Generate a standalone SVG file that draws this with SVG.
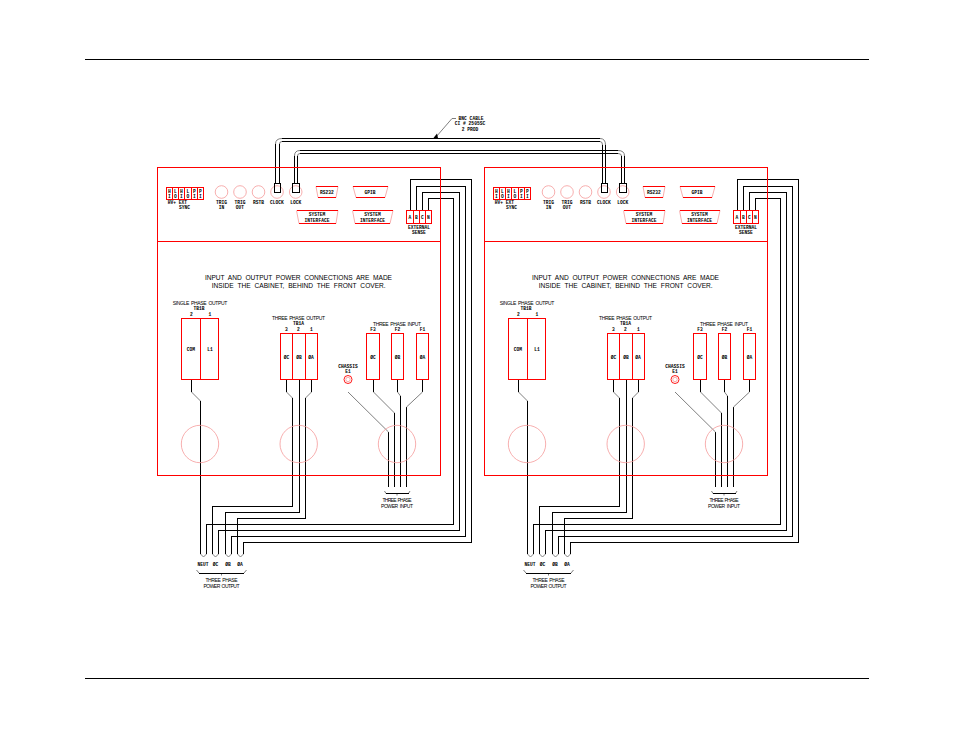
<svg xmlns="http://www.w3.org/2000/svg" width="954" height="738" viewBox="0 0 954 738">
<style>
.w{fill:none;stroke:#000;stroke-width:1;shape-rendering:crispEdges}
.g{fill:none;stroke:#707070;stroke-width:.9}
.r{fill:none;stroke:#f00;stroke-width:1;shape-rendering:crispEdges}
.p{fill:none;stroke:#f59a9a;stroke-width:.8}
text{font-family:"Liberation Mono",monospace;fill:#000;text-anchor:middle}
.a{font-family:"Liberation Sans",sans-serif;font-size:6.6px;word-spacing:2px}
.b{font-family:"Liberation Sans",sans-serif;font-size:5px;word-spacing:1px}
.c{font-size:4.6px;font-weight:700}
</style>
<defs>
<g id="panel">
<rect class="r" x="157.5" y="167.5" width="283" height="308"/>
<path class="r" d="M157.5 241.5H440.5"/>
<g id="hv">
<rect class="r" x="166.5" y="187.5" width="37" height="12"/>
<path class="r" d="M172.5 187.5V199.5M178.5 187.5V199.5M184.5 187.5V199.5M191.500 187.5V199.5M197.500 187.5V199.5"/>
<text class="c" x="169.5" y="192.5">H</text><text class="c" x="169.5" y="197.5">I</text>
<text class="c" x="175.5" y="192.5">L</text><text class="c" x="175.5" y="197.5">O</text>
<text class="c" x="181.5" y="192.5">H</text><text class="c" x="181.5" y="197.5">I</text>
<text class="c" x="188" y="192.5">L</text><text class="c" x="188" y="197.5">O</text>
<text class="c" x="194.5" y="192.5">P</text><text class="c" x="194.5" y="197.5">I</text>
<text class="c" x="200.5" y="192.5">P</text><text class="c" x="200.5" y="197.5">I</text>
<text class="c" x="172" y="203.5">HV+</text><text class="c" x="183" y="203.5">EXT</text><text class="c" x="184.5" y="208.5">SYNC</text>
</g>
<circle class="p" cx="221.5" cy="192" r="6.3"/><text class="c" x="221.5" y="203.5">TRIG</text><text class="c" x="221.5" y="208.5">IN</text>
<circle class="p" cx="240" cy="192" r="6.3"/><text class="c" x="240" y="203.5">TRIG</text><text class="c" x="240" y="208.5">OUT</text>
<circle class="p" cx="258.5" cy="192" r="6.3"/><text class="c" x="258.5" y="203.5">RSTB</text>
<circle class="p" cx="277" cy="192" r="6.3"/><text class="c" x="277" y="203.5">CLOCK</text>
<circle class="p" cx="295.7" cy="192" r="6.3"/><text class="c" x="295.7" y="203.5">LOCK</text>
<path class="p" d="M316 186.5L318 197.5M338 186.5L336 197.5M353 186.5L356 197.5M388 186.5L385 197.5"/>
<path class="r" d="M316 186.5H338M318 197.5H336M353 186.5H388M356 197.5H385"/>
<text class="c" x="327" y="193.500">RS232</text><text class="c" x="370" y="193.500">GPIB</text>
<path class="p" d="M296.500 210.500L299 223.500M338 210.500L336 223.500M352.500 210.500L355 223.500M393 210.500L390 223.500"/>
<path class="r" d="M297 210.500H338M299 223.500H336M353 210.500H393M355 223.500H390"/>
<text class="c" x="317" y="215.500">SYSTEM</text><text class="c" x="317" y="221.500">INTERFACE</text>
<text class="c" x="372.500" y="215.500">SYSTEM</text><text class="c" x="372.500" y="221.500">INTERFACE</text>
<rect class="r" x="406.500" y="210.500" width="25" height="13"/>
<path class="r" d="M413.500 210.500V223.500M419.500 210.500V223.500M425.500 210.500V223.500"/>
<text class="c" x="410" y="218.500">A</text><text class="c" x="416.500" y="218.500">B</text><text class="c" x="422.500" y="218.500">C</text><text class="c" x="428.500" y="218.500">N</text>
<text class="c" x="419" y="229">EXTERNAL</text><text class="c" x="419" y="234">SENSE</text>
<text class="a" x="298.500" y="280" textLength="187" lengthAdjust="spacing">INPUT AND OUTPUT POWER CONNECTIONS ARE MADE</text>
<text class="a" x="298.700" y="288" textLength="174" lengthAdjust="spacing">INSIDE THE CABINET, BEHIND THE FRONT COVER.</text>
<text class="b" x="200" y="304.500" textLength="54.500" lengthAdjust="spacing">SINGLE PHASE OUTPUT</text><text class="c" x="199" y="309.500">TB1B</text>
<text class="c" x="191.500" y="316">2</text><text class="c" x="210" y="316">1</text>
<rect class="r" x="181.500" y="318.500" width="37" height="61"/><path class="r" d="M200.500 318.500V379.500"/>
<text class="c" x="191" y="350.500">COM</text><text class="c" x="210" y="350.500">L1</text>
<text class="b" x="298.500" y="319.500" textLength="53" lengthAdjust="spacing">THREE PHASE OUTPUT</text><text class="c" x="298.500" y="325">TB1A</text>
<text class="c" x="286.500" y="331">3</text><text class="c" x="298.500" y="331">2</text><text class="c" x="311.500" y="331">1</text>
<rect class="r" x="280.500" y="333.500" width="37" height="46"/><path class="r" d="M292.500 333.500V379.500M305.500 333.500V379.500"/>
<text class="c" x="286.500" y="358.500">ØC</text><text class="c" x="299" y="358.500">ØB</text><text class="c" x="311" y="358.500">ØA</text>
<text class="b" x="397" y="325.500" textLength="48" lengthAdjust="spacing">THREE PHASE INPUT</text>
<text class="c" x="373" y="331">F3</text><text class="c" x="397.500" y="331">F2</text><text class="c" x="422.500" y="331">F1</text>
<rect class="r" x="366.500" y="333.500" width="13" height="46"/><rect class="r" x="391.500" y="333.500" width="12" height="46"/><rect class="r" x="416.500" y="333.500" width="12" height="46"/>
<text class="c" x="373" y="358.500">ØC</text><text class="c" x="397.500" y="358.500">ØB</text><text class="c" x="422.500" y="358.500">ØA</text>
<text class="c" x="348" y="367.500">CHASSIS</text><text class="c" x="348" y="373">E1</text>
<circle cx="348" cy="379.500" r="4" fill="none" stroke="#f00" stroke-width=".9"/><circle class="p" cx="348" cy="379.500" r="2.200"/>
<circle class="p" cx="200" cy="444" r="18.700"/><circle class="p" cx="298.700" cy="444" r="18.700"/><circle class="p" cx="397" cy="444" r="18.700"/>
<text class="b" x="397" y="502" textLength="29" lengthAdjust="spacing">THREE PHASE</text><text class="b" x="397" y="507.500" textLength="32" lengthAdjust="spacing">POWER INPUT</text>
<text class="c" x="203" y="565.500">NEUT</text><text class="c" x="215.500" y="565.500">ØC</text><text class="c" x="228" y="565.500">ØB</text><text class="c" x="240" y="565.500">ØA</text>
<text class="b" x="221.500" y="582" textLength="32" lengthAdjust="spacing">THREE PHASE</text><text class="b" x="221.500" y="587.500" textLength="36" lengthAdjust="spacing">POWER OUTPUT</text>
</g>
<g id="wiring">
<path class="w" d="M191.500 379.500V392M200.500 401V554M286.500 379.500V392M292.500 398V506.500H212.500V554M299.500 379.500V512.500H225.500V554M311.500 379.500V392M305.500 398V518.500H237.500V554"/>
<path class="w" d="M373.500 379.500V392M394.500 413V487M397.500 379.500V392M400.500 396V487M422.500 379.500V392M406.500 407V487M388.500 432V487"/>
<path class="g" d="M191.500 392L200.500 401M286.500 392L292.500 398M311.500 392L305.500 398M373.500 392L394.500 413M397.500 392L400.500 396M422.500 392L406.500 407M348 392L388.500 432"/>
<path class="g" d="M200.500 554L203.500 557L206.500 554M212.500 554L215.500 557L218.500 554M225.500 554L228.500 557L231.500 554M237.500 554L240.500 557L243.500 554"/>
<path class="g" d="M384.500 491L386 493.500M410 491L408.500 493.500M397 493.500L397 495.500M196.500 570L199 573M246.500 570L244 573M221.500 573V575.500"/>
<path class="w" d="M386 493.500H408.500M199 573.500H244"/>
<path class="w" d="M410.500 210V179.500H471.500V542.500H243.500V554M416.500 210V186H465.500V536.500H231.500V554M422.500 210V192.500H459.500V530.500H218.500V554M428.500 210V198.500H453.500V524.500H206.500V554"/>
</g>
</defs>
<g id="page-rules"><path class="w" d="M85 59.500H869M85 678.500H869"/></g>
<g id="connectors">
<use href="#wiring"/>
<use href="#wiring" x="327"/>
<path class="w" d="M275.500 183V144M279.500 183V144M294.500 183V156M297.500 183V156M282 138.500H600M282 141.500H600M300 150.500H618M300 153.500H618M602.500 183V145M605.500 183V145M621.500 183V156M624.500 183V156"/>
<path class="g" d="M275.500 144Q275.500 138.500 282 138.500M279.500 144Q279.500 141.500 282 141.500M294.500 156Q294.500 150.500 300 150.500M297.500 156Q297.500 153.500 300 153.500M600 138.500Q605.500 138.500 605.500 145M600 141.500Q602.500 141.500 602.500 145M618 150.500Q624.500 150.500 624.500 156M618 153.500Q621.500 153.500 621.500 156"/>
<path class="g" d="M436 137L452 118.500H456"/>
<path d="M433.500 138L438 138L437 133.500Z" fill="#000"/>
</g>
<g id="bnc-label"><text class="c" x="471" y="119.500">BNC CABLE</text><text class="c" x="470" y="125">CI # 2505SC</text><text class="c" x="470" y="130.500">2 PROD</text></g>
<g id="unit-1">
<use href="#panel"/>
<rect class="w" x="274.500" y="183" width="6" height="9.500"/>
<rect class="w" x="292.500" y="183" width="6.500" height="9.500"/>
</g>
<g id="unit-2" transform="translate(327 0)">
<use href="#panel"/>
<rect class="w" x="274.500" y="183" width="6" height="9.500"/>
<rect class="w" x="292.500" y="183" width="6.500" height="9.500"/>
</g>
</svg>
